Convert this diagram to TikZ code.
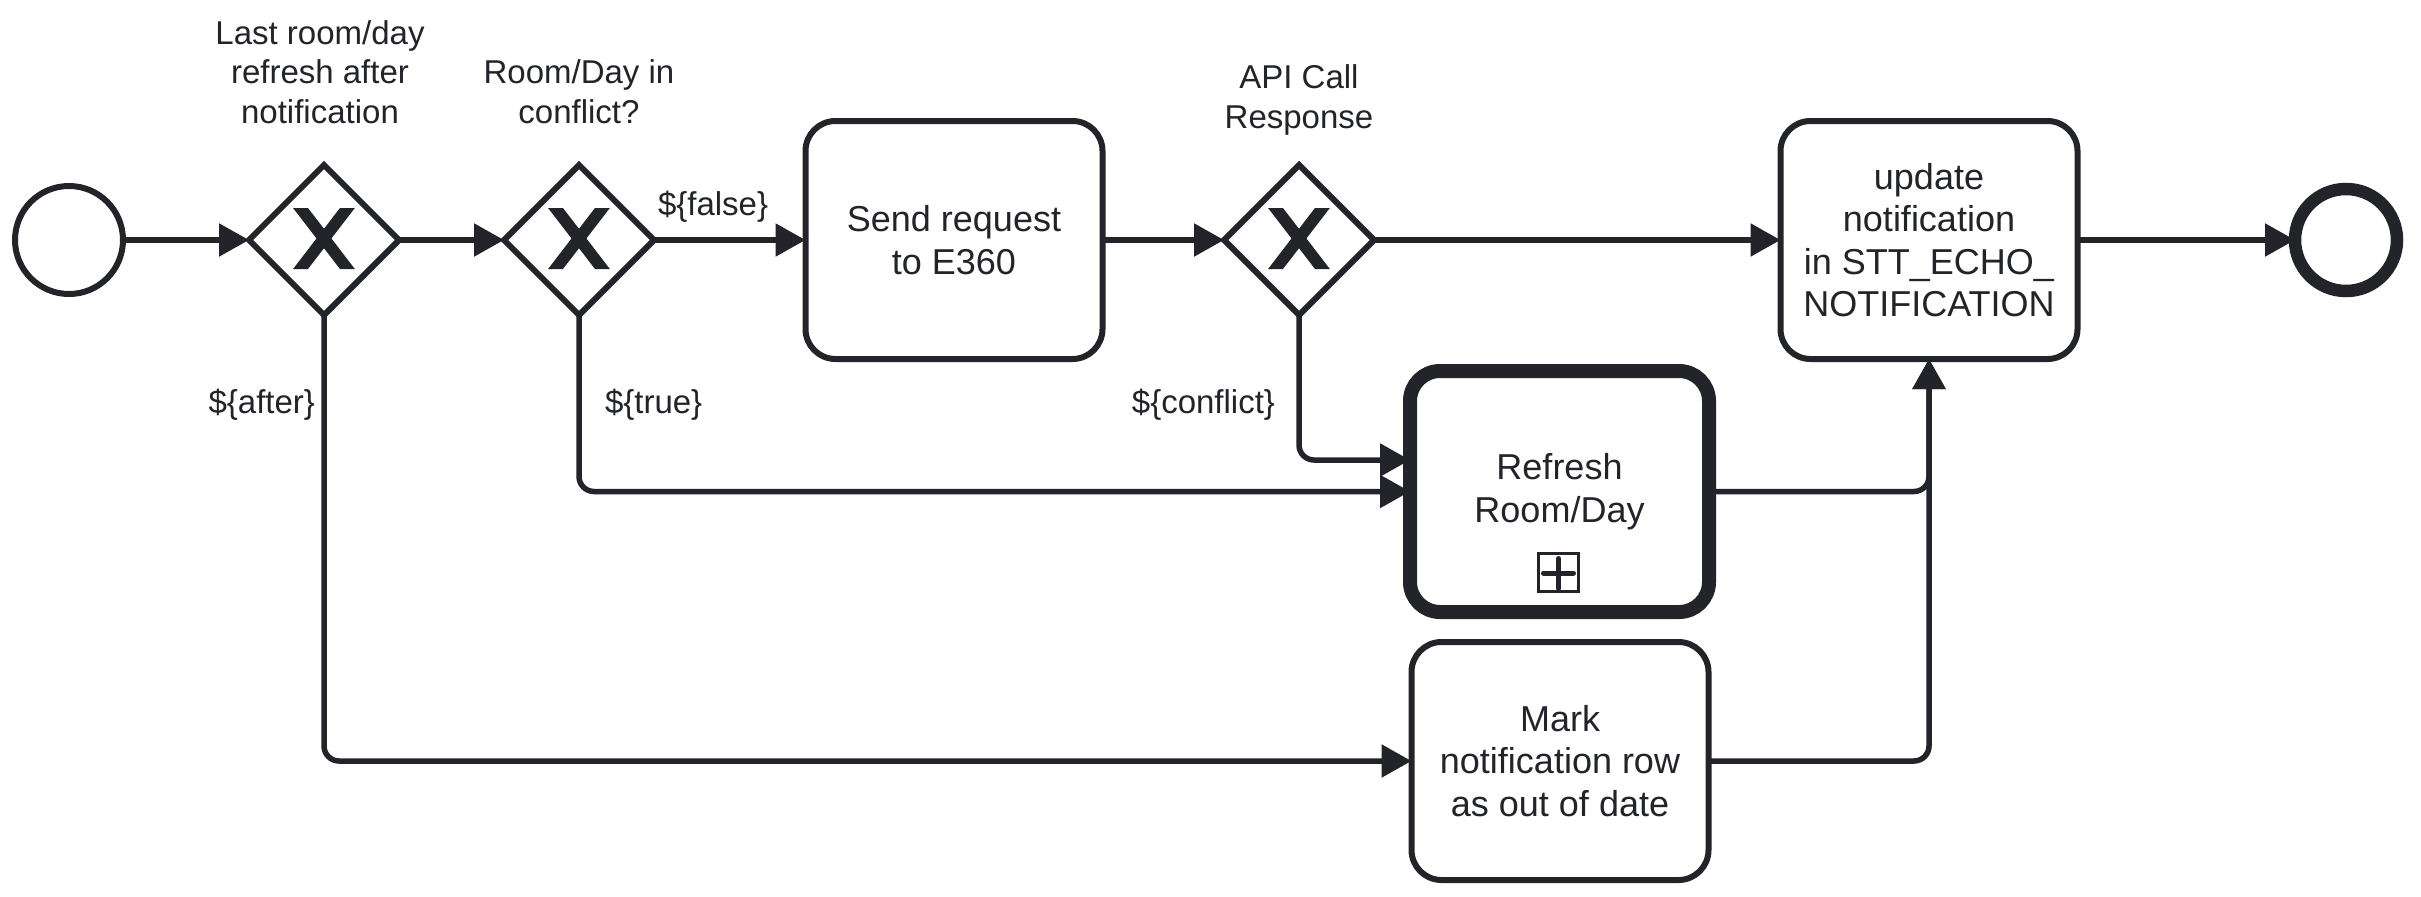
\documentclass[tikz,border=0pt]{standalone}
\usepackage{fontspec}
\setmainfont{Liberation Sans}
\usetikzlibrary{shapes.geometric,arrows.meta,calc,backgrounds}
\definecolor{ink}{HTML}{22242A}
\begin{document}
\begin{tikzpicture}[x=1pt,y=-1pt,
  every node/.style={inner sep=0pt, outer sep=0pt, text=ink},
  lab/.style={font=\fontsize{33}{39.6}\selectfont, align=center},
  cond/.style={font=\fontsize{33}{39.6}\selectfont},
  task/.style={draw=ink, fill=white, line width=6pt, rounded corners=30pt,
    minimum width=297pt, minimum height=238pt, align=center,
    font=\fontsize{36}{42.5}\selectfont},
  callact/.style={task, line width=14pt, minimum width=299pt, minimum height=241pt},
  xgate/.style={diamond, draw=ink, fill=white, line width=6pt,
    minimum width=150pt, minimum height=150pt, aspect=1},
  startev/.style={circle, draw=ink, fill=white, line width=6pt, minimum size=108pt},
  endev/.style={circle, draw=ink, fill=white, line width=12.5pt, minimum size=102pt},
  flow/.style={draw=ink, line width=5.5pt, rounded corners=15pt,
    -{Triangle[length=30pt,width=32pt]}},
  xmark/.style={fill=ink, draw=ink, line width=3pt, line join=miter},
]
\useasboundingbox (0,0) rectangle (2421,897);

% nodes
\node[startev] (start) at (69,240) {};
\node[xgate] (g1) at (324,240) {};
\node[xgate] (g2) at (579,240) {};
\node[task] (send) at (954,240) {Send request\\to E360};
\node[xgate] (g3) at (1299,240) {};
\node[task] (update) at (1929,240) {update\\notification\\in STT\_ECHO\_\\NOTIFICATION};
\node[endev] (end) at (2346,240) {};
\node[callact] (refresh) at (1559.5,491.5) {Refresh\\Room/Day};
\node[task] (mark) at (1560,761) {Mark\\notification row\\as out of date};

% gateway markers
\foreach \g in {g1,g2,g3}{
  \begin{scope}[shift={(\g.center)}]
    \path[xmark] (-27.9,-30.5) -- (-5.6,-1.52) -- (-27.9,27.5) -- (-16.8,27.5)
      -- (0,5.74) -- (16.7,27.5) -- (27.8,27.5) -- (5.5,-1.52) -- (27.8,-30.5)
      -- (16.7,-30.5) -- (0,-8.75) -- (-16.8,-30.5) -- cycle;
  \end{scope}
}

% collapsed sub-process marker
\begin{scope}[shift={(refresh.center)}]
  \draw[ink, line width=3pt] (-21,62) rectangle (19,100);
  \draw[ink, line width=5pt, line cap=round] (-16,81.5) -- (14,81.5);
  \draw[ink, line width=5pt, line cap=round] (-1,67) -- (-1,97);
\end{scope}

% labels
\node[lab] (l1) at (320,72) {Last room/day\\refresh after\\notification};
\node[lab] (l2) at (579,91.5) {Room/Day in\\conflict?};
\node[lab] (l3) at (1299,100) {API Call\\Response};
\node[cond, anchor=base west] (cf) at (658,215) {\$\{false\}};
\node[cond, anchor=base east] (ca) at (315,413) {\$\{after\}};
\node[cond, anchor=base west] (ct) at (605,413) {\$\{true\}};
\node[cond, anchor=base east] (cc) at (1275,413) {\$\{conflict\}};

% connectors
\begin{scope}[on background layer]
  \fill[white] (0,0) rectangle (2421,897);
  \draw[flow] (start.east) -- (g1.west);
  \draw[flow] (g1.east) -- (g2.west);
  \draw[flow] (g2.east) -- (send.west);
  \draw[flow] (send.east) -- (g3.west);
  \draw[flow] (g3.east) -- (update.west);
  \draw[flow] (update.east) -- (end.west);
  \draw[flow] (g1.south) |- (mark.west);
  \draw[flow] (g2.south) |- (refresh.west);
  \draw[flow] (g3.south) |- ($(refresh.west)+(0,-31.5)$);
  \draw[flow] (refresh.east) -| (update.south);
  \draw[flow] (mark.east) -| (update.south);
\end{scope}
\end{tikzpicture}
\end{document}
